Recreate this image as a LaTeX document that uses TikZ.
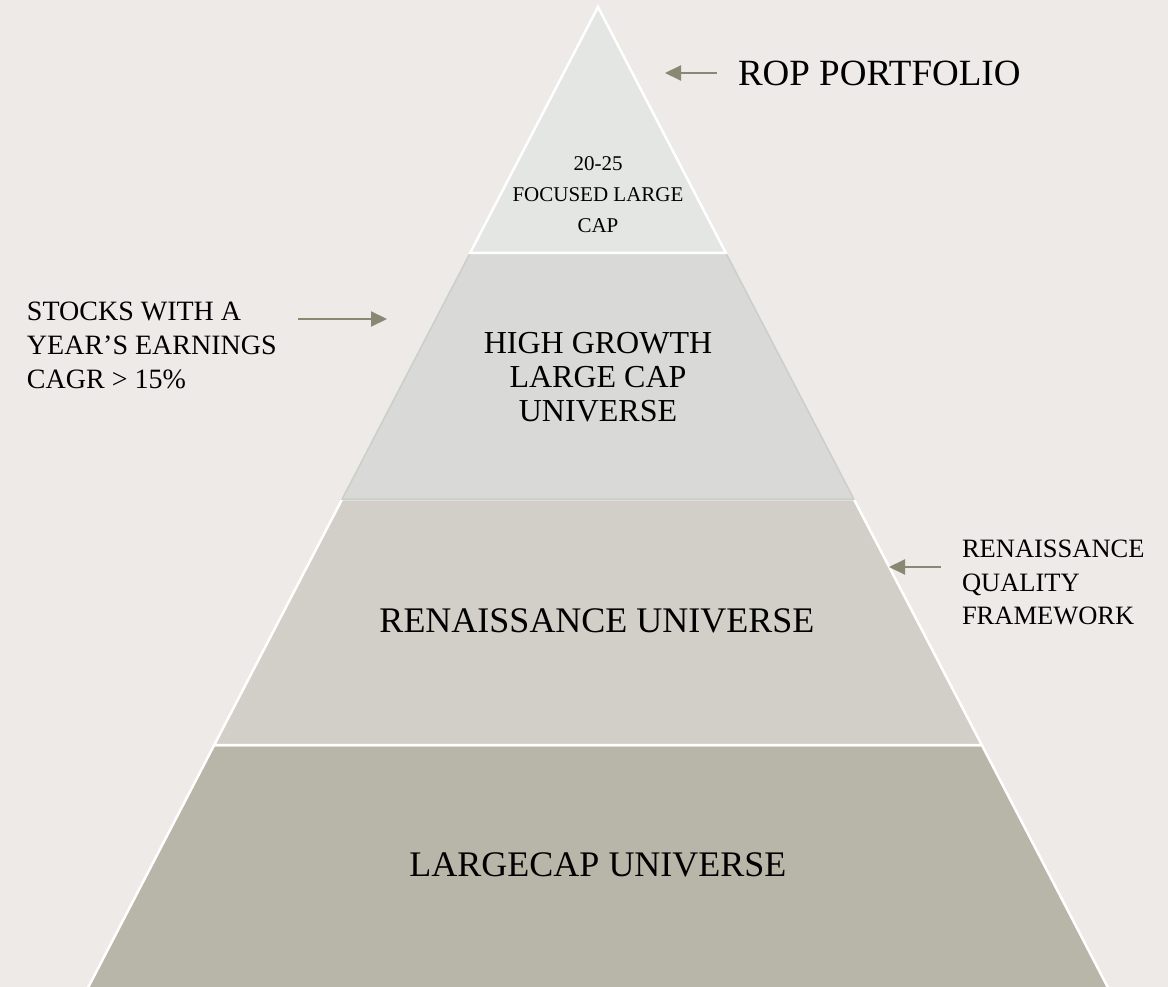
\documentclass[tikz,border=0pt]{standalone}
\usepackage{fontspec}
\setmainfont{Liberation Serif}
\usetikzlibrary{arrows.meta}
\definecolor{bg}{HTML}{EDEAE7}
\definecolor{layA}{HTML}{E4E6E3}
\definecolor{layB}{HTML}{D9D9D8}
\definecolor{layBedge}{HTML}{CAD0C8}
\definecolor{layC}{HTML}{D2CFC8}
\definecolor{layD}{HTML}{B8B5A9}
\definecolor{arrowc}{HTML}{8A8772}
\begin{document}
\begin{tikzpicture}[x=1pt,y=-1pt,
  layer/.style={draw=white,line width=2.5pt,line join=miter},
  lbl/.style={inner sep=0pt,outer sep=0pt,text=black},
  conn/.style={draw=arrowc,line width=2pt,-{Triangle[length=16pt,width=15pt]}}]
\useasboundingbox (0,0) rectangle (1168,987);
\fill[bg] (0,0) rectangle (1168,987);
% layers of the pyramid
\path[layer,fill=layD] (214.2,745) -- (981.8,745) -- (1111.8,995) -- (84.2,995) -- cycle;
\path[layer,fill=layC] (342.2,499) -- (853.8,499) -- (981.8,745) -- (214.2,745) -- cycle;
\path[fill=layB,draw=layBedge,line width=1.5pt] (470.1,253) -- (725.9,253) -- (853.8,499) -- (342.2,499) -- cycle;
\path[layer,fill=layA] (598,7) -- (725.9,253) -- (470.1,253) -- cycle;
% texts
\node[lbl,anchor=north,align=center,font={\fontsize{21}{31}\selectfont}] (top) at (598,157) {20-25\\FOCUSED LARGE\\CAP};
\node[lbl,anchor=north,align=center,font={\fontsize{32}{34}\selectfont}] (high) at (598,332) {HIGH GROWTH\\LARGE CAP\\UNIVERSE};
\node[lbl,anchor=north,font={\fontsize{36}{40}\selectfont}] (ren) at (597,609) {RENAISSANCE UNIVERSE};
\node[lbl,anchor=north,font={\fontsize{36}{40}\selectfont}] (large) at (598,853) {LARGECAP UNIVERSE};
\node[lbl,anchor=north west,font={\fontsize{37}{40}\selectfont}] (rop) at (738,61) {ROP PORTFOLIO};
\node[lbl,anchor=north west,align=left,font={\fontsize{28}{34}\selectfont}] (stocks) at (27,302) {STOCKS WITH A\\YEAR’S EARNINGS\\CAGR > 15\%};
\node[lbl,anchor=north west,align=left,font={\fontsize{26.5}{33.5}\selectfont}] (rqf) at (962,540) {RENAISSANCE\\QUALITY\\FRAMEWORK};
% connectors
\coordinate (ropS) at (717,73);
\coordinate (ropE) at (665,73);
\coordinate (stS) at (298,319);
\coordinate (stE) at (387,319);
\coordinate (rqS) at (941,567);
\coordinate (rqE) at (889,567);
\draw[conn] (ropS) -- (ropE);
\draw[conn] (stS) -- (stE);
\draw[conn] (rqS) -- (rqE);
\end{tikzpicture}
\end{document}
